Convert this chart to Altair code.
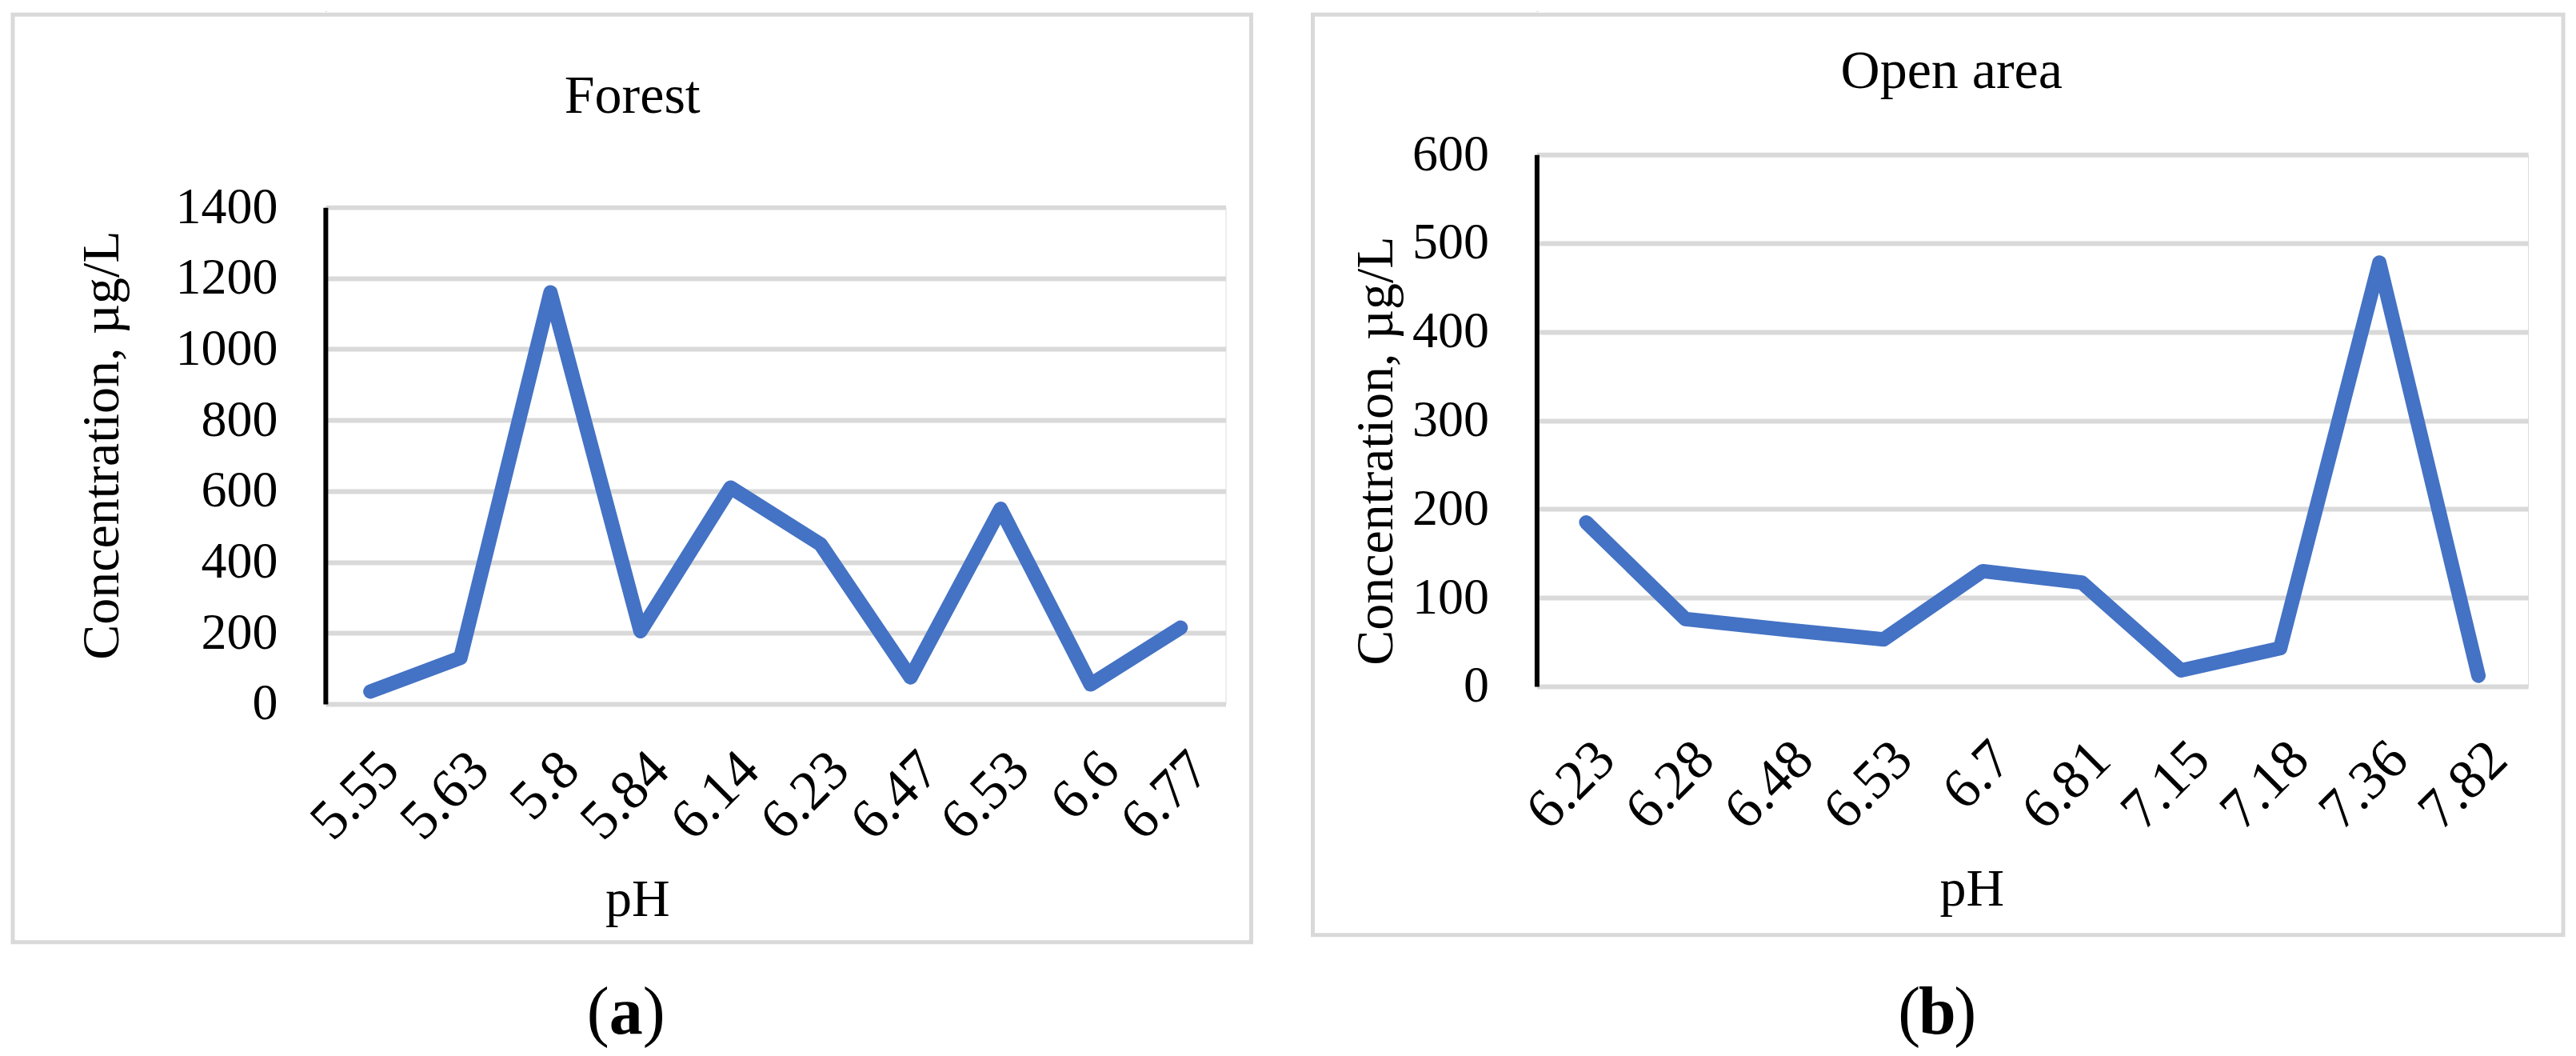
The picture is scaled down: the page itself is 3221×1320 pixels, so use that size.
import altair as alt
import pandas as pd

# ---- data ----
forest_ph = ["5.55", "5.63", "5.8", "5.84", "6.14", "6.23", "6.47", "6.53", "6.6", "6.77"]
forest_conc = [35, 130, 1160, 205, 610, 450, 75, 550, 55, 215]

open_ph = ["6.23", "6.28", "6.48", "6.53", "6.7", "6.81", "7.15", "7.18", "7.36", "7.82"]
open_conc = [185, 76, 64, 53, 130, 117, 18, 43, 478, 12]

forest_ticks = [0, 200, 400, 600, 800, 1000, 1200, 1400]
open_ticks = [0, 100, 200, 300, 400, 500, 600]

FONT = "Liberation Serif"
LINE_COLOR = "#4472C4"
GRID_COLOR = "#d9d9d9"


def panel(ph, conc, ticks, ymax, title, letter, w, h, cfg):
    df = pd.DataFrame({"pH": ph, "conc": conc})
    one = pd.DataFrame({"k": [0]})

    line = alt.Chart(df).mark_line(
        color=LINE_COLOR, strokeWidth=18, strokeCap="round", strokeJoin="round"
    ).encode(
        x=alt.X(
            "pH:N", sort=None,
            scale=alt.Scale(type="point", padding=0.5),
            axis=alt.Axis(
                title="pH", titleX=cfg["xtx"], titleY=cfg["xty"],
                titleBaseline="alphabetic", titleFontSize=66, titleFontWeight="normal",
                titleFont=FONT, titleColor="black",
                labelAngle=-45, labelAlign="right", labelBaseline="top",
                labelPadding=cfg["xlp"], labelFontSize=70, labelFont=FONT,
                labelColor="black", labelOverlap=False,
                ticks=False, tickSize=0, domain=False, grid=False,
            ),
        ),
        y=alt.Y(
            "conc:Q",
            scale=alt.Scale(domain=[0, ymax], nice=False, zero=True),
            axis=alt.Axis(
                title="Concentration, µg/L", titleX=cfg["ytx"], titleY=cfg["yty"],
                titleBaseline="alphabetic", titleAngle=270, titleFontSize=66,
                titleFontWeight="normal", titleFont=FONT, titleColor="black",
                values=ticks, format="d", labelPadding=60, labelFontSize=64,
                labelFont=FONT, labelColor="black", labelOverlap=False,
                ticks=False, tickSize=0,
                domain=True, domainColor="black", domainWidth=6,
                grid=True, gridColor=GRID_COLOR, gridWidth=6,
            ),
        ),
    )

    border = alt.Chart(one).mark_rect(
        fillOpacity=0, stroke=GRID_COLOR, strokeWidth=5
    ).encode(
        x=alt.value(cfg["bx"]), x2=alt.value(cfg["bx2"]),
        y=alt.value(cfg["by"]), y2=alt.value(cfg["by2"]),
    )

    ttl = alt.Chart(pd.DataFrame({"t": [title]})).mark_text(
        font=FONT, fontSize=68, color="black", align="center", baseline="alphabetic"
    ).encode(text="t:N", x=alt.value(cfg["tx"]), y=alt.value(cfg["ty"]))

    lp = alt.Chart(pd.DataFrame({"t": ["("]})).mark_text(
        font=FONT, fontSize=84, color="black", align="right", baseline="alphabetic"
    ).encode(text="t:N", x=alt.value(cfg["lx"] - 21), y=alt.value(cfg["ly"]))
    lt = alt.Chart(pd.DataFrame({"t": [letter]})).mark_text(
        font=FONT, fontSize=84, fontWeight="bold", color="black",
        align="center", baseline="alphabetic"
    ).encode(text="t:N", x=alt.value(cfg["lx"]), y=alt.value(cfg["ly"]))
    rp = alt.Chart(pd.DataFrame({"t": [")"]})).mark_text(
        font=FONT, fontSize=84, color="black", align="left", baseline="alphabetic"
    ).encode(text="t:N", x=alt.value(cfg["lx"] + 21), y=alt.value(cfg["ly"]))

    return alt.layer(border, line, ttl, lp, lt, rp).properties(width=w, height=h)


def spacer():
    # white 1px strip so both panels hang from the same top edge
    return alt.Chart(pd.DataFrame({"k": [0]})).mark_rule(
        color="white", strokeWidth=1
    ).encode(
        x=alt.value(0), x2=alt.value(1), y=alt.value(0)
    ).properties(width=1, height=1)


cfg_a = dict(xtx=390, xty=265, xlp=47, ytx=-259, yty=297,
             bx=-391, bx2=1158, by=-241, by2=919,
             tx=384, ty=-118, lx=376, ly=1033)
cfg_b = dict(xtx=544, xty=274, xlp=56, ytx=-181, yty=370,
             bx=-280, bx2=1284, by=-175, by2=976,
             tx=519, ty=-83, lx=501, ly=1099)

a = panel(forest_ph, forest_conc, forest_ticks, 1400, "Forest", "a", 1126, 621, cfg_a)
b = panel(open_ph, open_conc, open_ticks, 600, "Open area", "b", 1240, 665, cfg_b)

col_a = alt.vconcat(spacer(), a, spacing=0)
col_b = alt.vconcat(spacer(), b, spacing=0)

chart = alt.hconcat(col_a, col_b, spacing=71).properties(
    padding={"left": 5, "top": 4, "right": 5, "bottom": 5}
).configure_view(
    strokeWidth=0, stroke="transparent", fill="transparent"
).configure(font=FONT, background="white")

chart.save("out.html", embed_options={"renderer": "svg", "actions": False})
